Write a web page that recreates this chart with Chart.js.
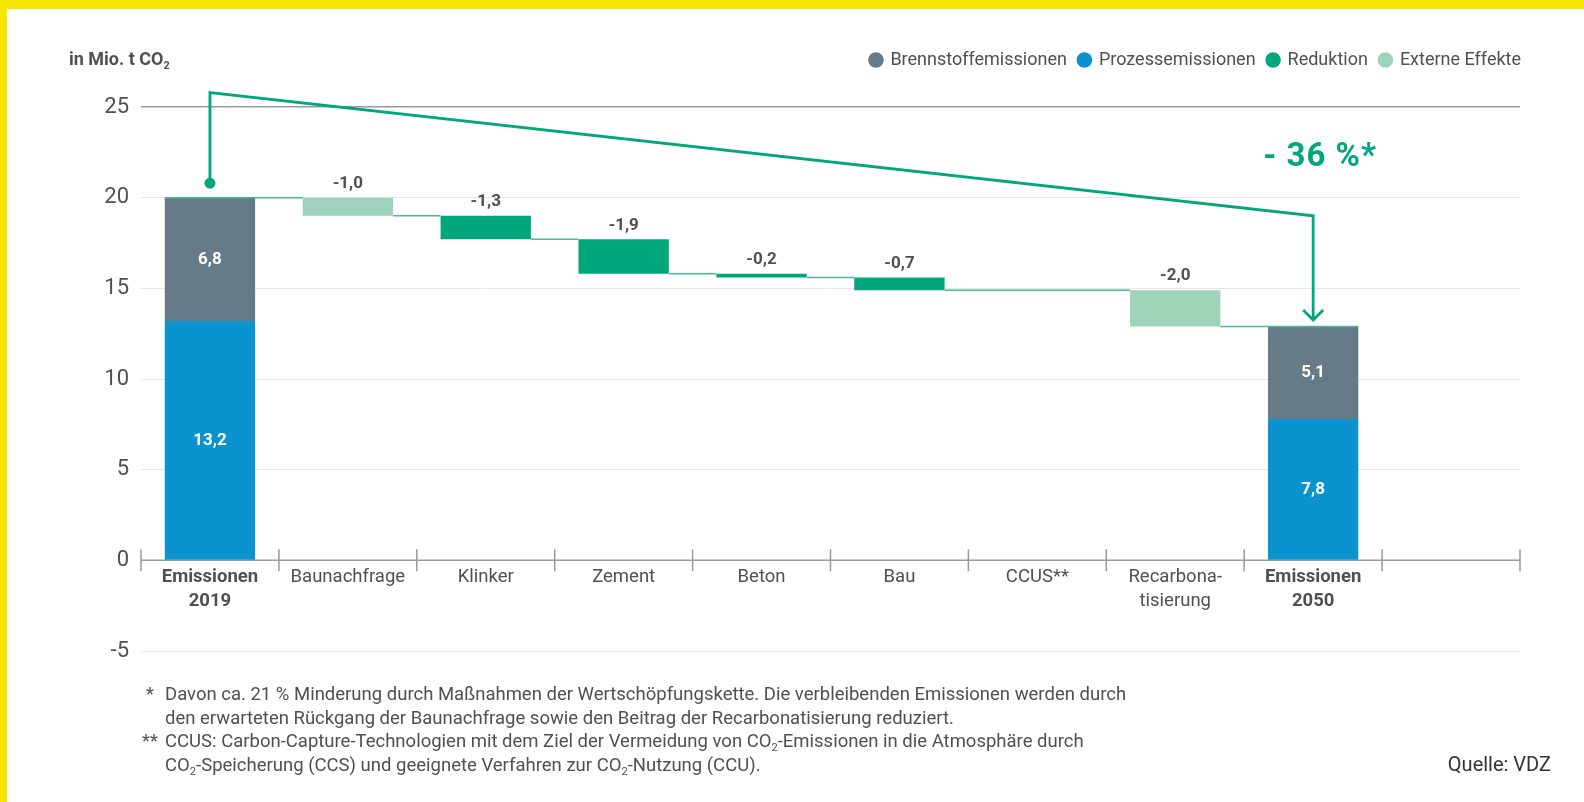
<!DOCTYPE html>
<html>
<head>
<meta charset="utf-8">
<script src="https://cdn.jsdelivr.net/npm/chart.js@4.4.0/dist/chart.umd.min.js"></script>
<style>
  body { margin: 0; width: 1584px; height: 802px; overflow: hidden; background: #fff; font-family: Roboto, sans-serif; position: relative; }
  #chart { position: absolute; left: 0; top: 0; }
  .yb { position: absolute; background: #f6e500; }
  .txt { position: absolute; color: #505050; white-space: nowrap; }
  .fn { font-size: 18.5px; line-height: 23.7px; }
  sub { font-size: 60%; line-height: 0; vertical-align: -0.35em; }
</style>
</head>
<body>
<canvas id="chart" width="1584" height="802"></canvas>
<div class="yb" style="left:0;top:0;width:1584px;height:9px"></div>
<div class="yb" style="left:0;top:0;width:7px;height:802px"></div>

<div class="txt" style="left:69px;top:48px;font-size:18px;font-weight:bold;">in Mio. t CO<sub>2</sub></div>

<div class="txt fn" style="left:146px;top:683px">*</div>
<div class="txt fn" style="left:165px;top:683px">Davon ca. 21 % Minderung durch Maßnahmen der Wertschöpfungskette. Die verbleibenden Emissionen werden durch<br>den erwarteten Rückgang der Baunachfrage sowie den Beitrag der Recarbonatisierung reduziert.</div>
<div class="txt fn" style="left:142px;top:730px">**</div>
<div class="txt fn" style="left:165px;top:730px">CCUS: Carbon-Capture-Technologien mit dem Ziel der Vermeidung von CO<sub>2</sub>-Emissionen in die Atmosphäre durch<br>CO<sub>2</sub>-Speicherung (CCS) und geeignete Verfahren zur CO<sub>2</sub>-Nutzung (CCU).</div>
<div class="txt" style="right:33px;top:752px;font-size:20px;line-height:24px;color:#333">Quelle: VDZ</div>

<script>
// categories (last one is an empty slot)
var categories = [['Emissionen', '2019'], 'Baunachfrage', 'Klinker', 'Zement', 'Beton', 'Bau', 'CCUS**', ['Recarbona-', 'tisierung'], ['Emissionen', '2050'], '']

// stacked emission bars (only first and 2050)
var brennstoff = [6.8, null, null, null, null, null, null, null, 5.1, null]
var prozess    = [13.2, null, null, null, null, null, null, null, 7.8, null]

// changes between the two years
var deltas  = [null, -1.0, -1.3, -1.9, -0.2, -0.7, 0, -2.0, null, null]
var extern  = [false, true, false, false, false, false, false, true, false, false]

// green arrow levels: start dot, top, right corner, tip
var arrowLevels = [20.8, 25.8, 19.0, 13.25]
var pctLabel = '- 36 %*'
var pctLevel = 22.2

var yTicks = [-5, 0, 5, 10, 15, 20, 25]

var fmt = function (v) { return v.toFixed(1).replace('.', ',') }

// running totals after each category
var levels = []
var total = brennstoff[0] + prozess[0]
for (var i = 0; i < categories.length; i++) {
  if (deltas[i] != null) total = Math.round((total + deltas[i]) * 10) / 10
  levels.push(total)
}

var brennData = [], prozData = [], redData = [], extData = []
for (var i = 0; i < categories.length; i++) {
  brennData.push(brennstoff[i] != null ? [prozess[i], prozess[i] + brennstoff[i]] : null)
  prozData.push(prozess[i] != null ? [0, prozess[i]] : null)
  var range = null
  if (deltas[i]) range = [levels[i], levels[i - 1]]
  redData.push(range && !extern[i] ? range : null)
  extData.push(range && extern[i] ? range : null)
}

var overlay = {
  id: 'overlay',
  beforeInit: function (chart) {
    var lg = chart.legend
    var fit = lg.fit
    lg.fit = function () { fit.call(this); this.height += 28 }
    var draw = lg.draw
    lg.draw = function () {
      this.ctx.save()
      this.ctx.translate(13, 0)
      draw.call(this)
      this.ctx.restore()
    }
  },
  beforeDatasetsDraw: function (chart) {
    var ctx = chart.ctx, x = chart.scales.x, y = chart.scales.y
    var y0 = y.getPixelForValue(0)
    ctx.save()
    ctx.strokeStyle = '#9a9a9a'
    ctx.lineWidth = 1.5
    ctx.beginPath()
    ctx.moveTo(x.left, y0); ctx.lineTo(x.right, y0)
    var n = categories.length
    for (var i = 0; i <= n; i++) {
      var xt = x.left + i * (x.right - x.left) / n
      ctx.moveTo(xt, y0 - 11); ctx.lineTo(xt, y0 + 11)
    }
    ctx.stroke()
    ctx.restore()
  },
  afterDatasetsDraw: function (chart) {
    var ctx = chart.ctx, x = chart.scales.x, y = chart.scales.y
    var bw = chart.getDatasetMeta(0).data[0].width
    var cx = function (i) { return x.getPixelForValue(i) }
    ctx.save()
    // connector lines
    ctx.strokeStyle = '#48bb93'
    ctx.lineWidth = 1.5
    ctx.beginPath()
    for (var i = 0; i < 8; i++) {
      var xs = (i === 0 || deltas[i] === 0) ? cx(i) - bw / 2 : cx(i) + bw / 2
      var xe = (i + 1 === 8) ? cx(8) + bw / 2 : cx(i + 1) - bw / 2
      var ly = y.getPixelForValue(levels[i])
      ctx.moveTo(xs, ly); ctx.lineTo(xe, ly)
    }
    ctx.stroke()

    // value labels
    ctx.textAlign = 'center'
    ctx.textBaseline = 'middle'
    ctx.font = 'bold 17px Roboto'
    ctx.fillStyle = '#505050'
    for (var i = 0; i < categories.length; i++) {
      if (deltas[i]) {
        ctx.fillText(fmt(deltas[i]), cx(i), y.getPixelForValue(levels[i - 1]) - 14)
      }
    }
    ctx.fillStyle = '#fff'
    for (var i = 0; i < categories.length; i++) {
      if (prozess[i] != null) {
        ctx.fillText(fmt(prozess[i]), cx(i), y.getPixelForValue(prozess[i] / 2))
        ctx.fillText(fmt(brennstoff[i]), cx(i), y.getPixelForValue(prozess[i] + brennstoff[i] / 2))
      }
    }

    // arrow
    var ax0 = cx(0), ax1 = cx(8)
    ctx.strokeStyle = '#00a67c'
    ctx.fillStyle = '#00a67c'
    ctx.lineWidth = 2.8
    ctx.beginPath()
    ctx.moveTo(ax0, y.getPixelForValue(arrowLevels[0]))
    ctx.lineTo(ax0, y.getPixelForValue(arrowLevels[1]))
    ctx.lineTo(ax1, y.getPixelForValue(arrowLevels[2]))
    var tip = y.getPixelForValue(arrowLevels[3])
    ctx.lineTo(ax1, tip)
    ctx.moveTo(ax1 - 10, tip - 10); ctx.lineTo(ax1, tip); ctx.lineTo(ax1 + 10, tip - 10)
    ctx.stroke()
    ctx.beginPath()
    ctx.arc(ax0, y.getPixelForValue(arrowLevels[0]), 5.5, 0, Math.PI * 2)
    ctx.fill()

    ctx.font = 'bold 33px Roboto'
    ctx.letterSpacing = '1px'
    ctx.fillText(pctLabel, ax1 + 7, y.getPixelForValue(pctLevel))
    ctx.restore()
  }
}

var ctx = document.getElementById('chart').getContext('2d')
new Chart(ctx, {
  type: 'bar',
  data: {
    labels: categories,
    datasets: [
      { label: 'Brennstoffemissionen', data: brennData, backgroundColor: '#657b88' },
      { label: 'Prozessemissionen', data: prozData, backgroundColor: '#0a93cf' },
      { label: 'Reduktion', data: redData, backgroundColor: '#00a67c' },
      { label: 'Externe Effekte', data: extData, backgroundColor: '#9ed3b9' }
    ]
  },
  options: {
    responsive: false,
    animation: false,
    events: [],
    grouped: false,
    categoryPercentage: 1,
    barPercentage: 0.655,
    layout: { padding: { top: 39, right: 64, left: 0, bottom: 151 } },
    plugins: {
      tooltip: { enabled: false },
      legend: {
        position: 'top',
        align: 'end',
        labels: {
          usePointStyle: true,
          pointStyle: 'circle',
          boxWidth: 11,
          boxHeight: 11,
          padding: 12,
          color: '#505050',
          font: { family: 'Roboto', size: 18 }
        }
      }
    },
    scales: {
      x: {
        position: { y: 0 },
        grid: { display: false, drawTicks: false },
        border: { display: false },
        ticks: {
          padding: 5,
          color: '#505050',
          maxRotation: 0,
          autoSkip: false,
          font: function (c) {
            return { family: 'Roboto', size: 18.5, lineHeight: 1.3, weight: (c.index === 0 || c.index === 8) ? 'bold' : 'normal' }
          }
        }
      },
      y: {
        min: -5,
        max: 25,
        afterFit: function (scale) { scale.width = 141 },
        afterBuildTicks: function (scale) { scale.ticks = yTicks.map(function (v) { return { value: v } }) },
        border: { display: false },
        grid: {
          drawTicks: false,
          color: function (c) { return c.tick && c.tick.value === 25 ? '#9a9a9a' : '#e6e6e6' },
          lineWidth: function (c) { return c.tick && c.tick.value === 25 ? 1.5 : 1 }
        },
        ticks: {
          padding: 12,
          color: '#505050',
          font: { family: 'Roboto', size: 22 }
        }
      }
    }
  },
  plugins: [overlay]
})
</script>
</body>
</html>
